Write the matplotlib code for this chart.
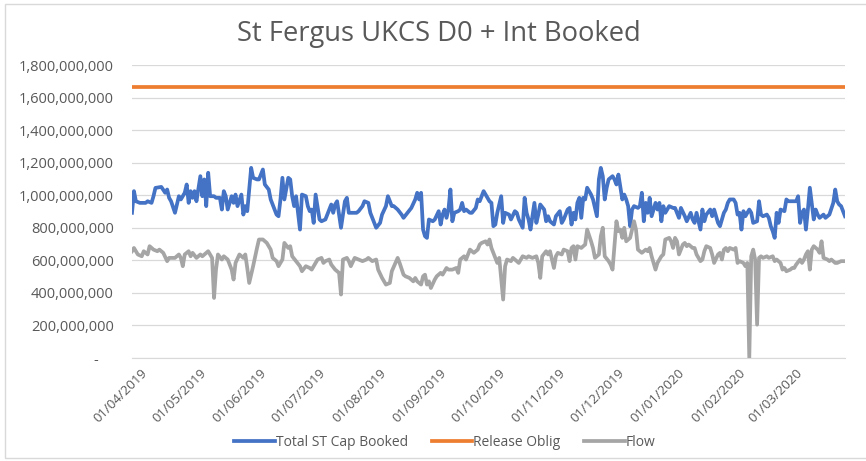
import pandas as pd
import matplotlib
matplotlib.use('Agg')
import matplotlib.pyplot as plt
import matplotlib.dates as mdates
from matplotlib.ticker import FuncFormatter
from matplotlib.patches import Rectangle
from matplotlib.transforms import ScaledTranslation

plt.rcParams['font.family'] = ['Open Sans', 'DejaVu Sans']

start = pd.Timestamp('2019-04-01')

# Total ST Cap Booked (day offset from 01/04/2019, value in millions)
cap_days = [0, 1, 2, 4, 7, 8, 10, 11, 12, 15, 17, 18, 19, 20, 22, 24, 25, 27, 28, 29,
            30, 31, 32, 33, 35, 36, 37, 38, 39, 40, 42, 43, 45, 46, 47, 48, 49, 51, 52, 53,
            54, 56, 57, 58, 59, 61, 62, 64, 65, 67, 68, 70, 71, 73,
            74, 75, 76, 77, 78, 80, 81, 82, 83, 84, 86, 87, 89, 90, 91, 92, 93, 94, 96, 97,
            99, 101, 102, 103, 104, 105, 106, 107, 109, 110, 111, 113, 115, 116, 118, 119, 121, 122, 125, 127,
            128, 130, 131, 133, 134, 136, 138, 139, 141, 143, 145, 146, 147, 148, 149, 150,
            151, 152, 154, 155, 157, 158, 159, 160, 161, 162, 163, 164, 165, 167, 168, 169, 170, 171, 173, 174,
            176, 177, 178, 179, 180, 182, 183, 184, 185, 186, 187, 189, 190, 191, 193, 194, 196, 197, 198, 200,
            201, 202, 203, 204, 206, 207, 208, 209, 211, 212, 213, 214, 216, 217, 219, 220, 221, 223, 224, 225, 226,
            227, 228, 229, 230, 231, 232, 233, 235, 236, 237, 238, 239, 240, 241, 242, 243, 244, 246, 247, 248,
            249, 251, 252, 253, 254, 255, 256, 257, 259, 260, 261, 262, 263, 264, 265, 266, 268, 269, 270, 271,
            272, 273, 275, 277, 278, 280, 281, 283, 284, 286, 287, 288, 289, 291, 292, 293, 294, 296, 297, 298,
            300, 301, 302,
            303, 304, 305, 306, 308, 309, 310, 311, 312, 313, 314, 316, 317, 318, 320, 321, 322, 323, 325, 326,
            327, 328, 329, 330, 331, 332, 334, 335, 336, 338, 340, 341, 342, 343, 344, 345, 346, 347, 349, 350,
            351, 352, 354, 355, 356, 357, 359, 360, 361, 362, 363, 365]
cap_vals = [892, 1025, 963, 953, 953, 963, 953, 994, 1045, 1051, 1015, 1035, 984, 963, 892, 994, 974, 1015, 1066, 953,
            1025, 984, 1025, 963, 1117, 994, 1097, 933, 1138, 994, 994, 984, 984, 912, 1025, 994, 912, 994, 953, 1004,
            933, 1004, 881, 933, 902, 1168, 1107, 1097, 1097, 1158, 1066, 1035, 974, 912,
            881, 871, 974, 1107, 974, 1107, 1097, 994, 933, 994, 789, 1004, 994, 933, 902, 912, 830, 1004, 851, 840,
            851, 912, 943, 892, 943, 963, 881, 800, 963, 984, 892, 892, 892, 902, 933, 963, 953, 892, 800, 830,
            881, 933, 994, 933, 933, 912, 881, 861, 892, 922, 974, 1015, 974, 1015, 789, 748,
            738, 851, 840, 851, 902, 820, 881, 912, 861, 912, 1035, 840, 892, 902, 912, 953, 902, 912, 892, 892,
            922, 974, 963, 994, 1025, 984, 963, 953, 810, 820, 892, 994, 830, 892, 881, 851, 902, 892, 851, 800,
            984, 892, 851, 789, 953, 830, 881, 943, 912, 840, 871, 840, 820, 871, 902, 830, 851, 912, 922, 820, 892,
            851, 953, 984, 861, 984, 974, 1046, 1004, 974, 922, 871, 1097, 1168, 1117, 974, 1046, 1097, 1117, 1097, 1066,
            1127, 974, 1004, 974, 933, 810, 912, 933, 922, 933, 1015, 840, 953, 892, 984, 871, 953, 912, 953, 840,
            933, 892, 933, 922, 922, 861, 922, 871, 840, 892, 851, 830, 892, 789, 912, 840, 881, 912, 871, 912,
            830, 810, 851,
            892, 912, 953, 974, 974, 953, 881, 892, 789, 902, 871, 912, 892, 830, 840, 963, 881, 871, 881, 861,
            810, 779, 738, 892, 830, 912, 902, 974, 963, 963, 963, 994, 830, 892, 912, 789, 912, 1046, 851, 912,
            881, 861, 881, 861, 871, 881, 953, 1035, 963, 943, 933, 871]

# Flow
flow_days = [0, 1, 3, 5, 6, 8, 9, 11, 13, 14, 16, 18, 19, 22, 24, 25, 26, 27, 29, 30,
             31, 33, 35, 36, 39, 41, 42, 43, 44, 46, 47, 49, 51, 52, 53, 55, 57, 58, 59, 60,
             62, 64, 65, 67, 69, 71, 72,
             74, 75, 77, 78, 80, 81, 82, 84, 86, 87, 89, 91, 92, 93, 95, 97, 98, 99, 101, 102,
             104, 106, 107, 108, 110, 111, 112, 114, 116, 118, 120, 121, 123, 125, 126, 128, 130, 132, 133, 136,
             137, 139, 140, 142, 144, 145, 146, 148, 149, 150,
             151, 152, 153, 155, 156, 158, 159, 161, 162, 164, 166, 167, 168, 170, 171, 172, 173, 175, 177, 178,
             179, 181, 182, 183, 184, 186, 187, 188, 190, 191, 192, 194, 195, 196, 198, 200, 202, 203, 205, 207,
             208, 209, 210, 212, 213, 214, 216, 217, 218, 220, 221, 223, 224, 225, 226,
             227, 228, 230, 231, 232, 233, 235, 236, 237, 239, 240, 241, 242, 244, 245, 246, 248, 249, 250, 251,
             252, 253, 255, 256, 257, 258, 259, 261, 263, 264, 265, 266, 268, 269, 271, 272, 273, 275, 276, 277,
             278, 279, 280, 282, 283, 284, 285, 287, 288, 289, 291, 292, 293, 294, 296, 297, 298, 300, 301, 302,
             303, 304, 305, 306, 308, 309, 310, 311, 313, 314, 315, 316, 317, 318, 319, 320, 321, 322, 323, 325,
             326, 328, 329, 330, 332, 333, 334, 335, 337, 338, 339, 340, 342, 343, 344, 345, 346, 347, 348, 349,
             351, 352, 353, 354, 356, 357, 358, 360, 361, 363, 365]
flow_vals = [656, 676, 636, 625, 656, 636, 687, 666, 656, 666, 646, 595, 615, 615, 636, 615, 564, 636, 656, 625,
             646, 615, 636, 625, 656, 615, 369, 543, 636, 605, 625, 605, 543, 482, 584, 636, 615, 636, 553, 461,
             564, 676, 728, 728, 707, 666, 615,
             595, 564, 605, 707, 676, 687, 625, 595, 564, 533, 564, 553, 543, 564, 605, 615, 584, 595, 605, 574,
             543, 523, 390, 605, 615, 595, 564, 615, 605, 595, 605, 615, 595, 605, 543, 492, 451, 461, 533, 615,
             584, 512, 502, 492, 471, 492, 471, 451, 502, 512,
             451, 471, 430, 482, 502, 523, 512, 553, 543, 543, 553, 523, 605, 625, 605, 636, 666, 646, 666, 697,
             707, 717, 697, 728, 676, 615, 584, 615, 359, 564, 605, 595, 615, 605, 584, 625, 615, 625, 615, 625,
             584, 492, 625, 656, 636, 656, 553, 625, 646, 636, 666, 656, 595, 676, 687,
             605, 687, 676, 687, 697, 789, 717, 676, 615, 636, 748, 800, 625, 595, 574, 543, 840, 779, 789, 738,
             800, 717, 738, 789, 840, 789, 666, 646, 666, 656, 676, 625, 543, 584, 625, 636, 728, 738, 717, 676,
             738, 717, 636, 697, 707, 687, 697, 676, 676, 636, 595, 605, 656, 687, 676, 636, 584, 636, 646, 605,
             666, 676, 656, 676, 666, 676, 584, 595, 584, 564, 584, 0, 625, 666, 605, 205, 615, 625, 615, 625,
             615, 625, 595, 605, 584, 543, 553, 533, 543, 553, 553, 574, 605, 584, 605, 636, 656, 543, 666, 687,
             666, 646, 717, 615, 605, 595, 605, 584, 584, 595, 595]

release_oblig = 1667  # millions, flat
release_days = [0, 365]

y_ticks = [0, 200, 400, 600, 800, 1000, 1200, 1400, 1600, 1800]

cap_dates = start + pd.to_timedelta(cap_days, unit='D')
flow_dates = start + pd.to_timedelta(flow_days, unit='D')
rel_dates = start + pd.to_timedelta(release_days, unit='D')

W, H = 866, 461
fig = plt.figure(figsize=(W / 100, H / 100), dpi=100)
ax = fig.add_axes([132 / W, 1 - 358 / H, (845 - 132) / W, (358 - 65) / H])

ax.plot(cap_dates, [v * 1e6 for v in cap_vals], color='#4472C4', lw=2.7,
        label='Total ST Cap Booked', solid_joinstyle='round')
ax.plot(rel_dates, [release_oblig * 1e6] * 2, color='#ED7D31', lw=2.7, label='Release Oblig')
ax.plot(flow_dates, [v * 1e6 for v in flow_vals], color='#A5A5A5', lw=2.7,
        label='Flow', solid_joinstyle='round')

ax.set_xlim(start, start + pd.Timedelta(days=365))
ax.set_ylim(0, 1.8e9)
ax.set_yticks([t * 1e6 for t in y_ticks])
ax.yaxis.set_major_formatter(FuncFormatter(lambda v, p: '-    ' if v == 0 else f'{v:,.0f}'))
ax.grid(axis='y', color='#d9d9d9', lw=0.9)
ax.set_axisbelow(True)
for s in ['top', 'right', 'left']:
    ax.spines[s].set_visible(False)
ax.spines['bottom'].set_color('#d9d9d9')

ax.xaxis.set_major_locator(mdates.MonthLocator(bymonthday=1))
ax.xaxis.set_major_formatter(mdates.DateFormatter('%d/%m/%Y'))
ax.tick_params(axis='both', length=0, labelcolor='#595959')
ax.tick_params(axis='y', pad=13, labelsize=10.5)
ax.tick_params(axis='x', pad=6, labelsize=9.5)
for lbl in ax.get_xticklabels():
    lbl.set_rotation(45)
    lbl.set_ha('right')
    lbl.set_va('top')
    lbl.set_rotation_mode('anchor')
    lbl.set_transform(lbl.get_transform() + ScaledTranslation(9 / 100, 0, fig.dpi_scale_trans))

fig.text(439 / W, 1 - 34 / H, 'St Fergus UKCS D0 + Int Booked', ha='center', va='center',
         fontsize=19.7, color='#595959')

fig.legend(loc='center', bbox_to_anchor=(445 / W, 1 - 442 / H), ncol=3, frameon=False,
           fontsize=10, labelcolor='#595959', handlelength=2.9, handletextpad=0.1, columnspacing=1.7)

fig.patches.append(Rectangle((5 / W, 3 / H), 870 / W, 454 / H, transform=fig.transFigure,
                             fill=False, edgecolor='#d9d9d9', lw=1))

fig.savefig('out.png', dpi=100)
